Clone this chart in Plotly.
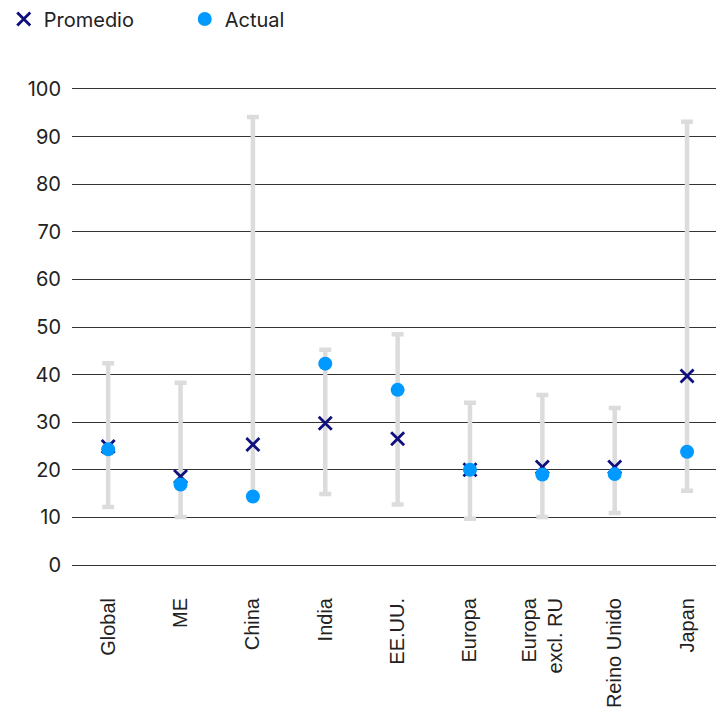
import plotly.graph_objects as go

categories = ["Global", "ME", "China", "India", "EE.UU.", "Europa", "Europa<br>excl. RU", "Reino Unido", "Japan"]
promedio = [24.9, 18.6, 25.3, 29.8, 26.5, 20.0, 20.6, 20.6, 39.7]
actual = [24.3, 16.9, 14.4, 42.3, 36.8, 20.0, 19.0, 19.1, 23.8]
rango_max = [42.4, 38.3, 94.1, 45.2, 48.5, 34.1, 35.7, 33.0, 93.1]
rango_min = [12.2, 10.1, 14.4, 14.9, 12.7, 9.7, 10.1, 10.9, 15.6]

err_plus = [mx - p for mx, p in zip(rango_max, promedio)]
err_minus = [p - mn for mn, p in zip(rango_min, promedio)]

fig = go.Figure()
fig.add_trace(go.Scatter(
    x=categories, y=promedio, mode="markers", name="Promedio",
    marker=dict(symbol="x-thin", size=13, line=dict(width=2.8, color="#0f0f7d"), color="#0f0f7d"),
    error_y=dict(type="data", symmetric=False, array=err_plus, arrayminus=err_minus,
                 color="#dcdcdc", thickness=4.5, width=6),
))
fig.add_trace(go.Scatter(
    x=categories, y=actual, mode="markers", name="Actual",
    marker=dict(symbol="circle", size=14, color="#0099ff"),
))

fig.update_layout(
    width=716, height=711,
    margin=dict(l=72, r=0, t=89, b=146, autoexpand=False),
    paper_bgcolor="white", plot_bgcolor="white",
    font=dict(family="Inter, Roboto, sans-serif", size=20, color="#222222"),
    showlegend=True,
    legend=dict(orientation="h", x=-0.106, xanchor="left", y=1.147, yanchor="middle",
                font=dict(size=20, color="#222222"), entrywidth=136, itemwidth=30),
    xaxis=dict(range=[-0.5, 8.4], showgrid=False, zeroline=False, automargin=False,
               showline=True, mirror=True, linecolor="#333333", linewidth=1,
               tickangle=-90, tickfont=dict(family="Liberation Sans, Arial, sans-serif", size=20, color="#222222"),
               ticks="", ticklen=0, ticklabelstandoff=24),
    yaxis=dict(range=[0, 100], dtick=10, showgrid=True, gridcolor="#333333", gridwidth=1,
               zeroline=False, showline=False, ticks="", ticklabelstandoff=10, automargin=False,
               tickfont=dict(size=20, color="#222222")),
)

fig.write_html("out.html", config={"displayModeBar": False},
               post_script="document.body.style.margin='0';document.body.style.overflow='hidden';")
